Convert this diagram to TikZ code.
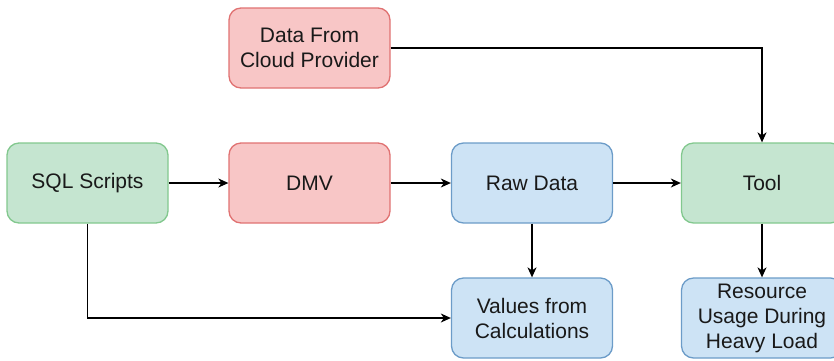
\documentclass[tikz,border=0pt]{standalone}
\usepackage{fontspec}
\setmainfont{Liberation Sans}
\usetikzlibrary{arrows.meta}
\definecolor{gfill}{HTML}{C5E5D0}
\definecolor{gdraw}{HTML}{82C88E}
\definecolor{rfill}{HTML}{F8C6C6}
\definecolor{rdraw}{HTML}{E07272}
\definecolor{bfill}{HTML}{CDE3F5}
\definecolor{bdraw}{HTML}{6C9CC8}
\tikzset{
  box/.style={rounded corners=12pt, line width=1.3pt, minimum width=161pt,
    minimum height=80pt, align=center, inner sep=2pt, text=black!90,
    font=\fontsize{21}{25}\selectfont},
  greenbox/.style={box, fill=gfill, draw=gdraw},
  redbox/.style={box, fill=rfill, draw=rdraw},
  bluebox/.style={box, fill=bfill, draw=bdraw},
  arr/.style={line width=1.2pt, draw=black, -{Stealth[length=10pt,width=9pt,inset=3pt]}}
}
\begin{document}
\begin{tikzpicture}[x=1pt,y=-1pt]
\useasboundingbox (0,0) rectangle (834,360);
\clip (0,0) rectangle (834,360);
\node[redbox]   (cloud)  at (309.5,48)  {Data From\\Cloud Provider};
\node[greenbox] (sql)    at (87.5,183)  {SQL Scripts};
\node[redbox]   (dmv)    at (309.5,183) {DMV};
\node[bluebox]  (raw)    at (532,183)   {Raw Data};
\node[greenbox] (tool)   at (762,183)   {Tool};
\node[bluebox]  (values) at (532,318)   {Values from\\Calculations};
\node[bluebox]  (res)    at (762,318)   {Resource\\Usage During\\Heavy Load};
\draw[arr] (sql) -- (dmv);
\draw[arr] (dmv) -- (raw);
\draw[arr] (raw) -- (tool);
\draw[arr] (raw) -- (values);
\draw[arr] (tool) -- (res);
\draw[arr] (sql.south) |- (values.west);
\draw[arr] (cloud.east) -| (tool.north);
\end{tikzpicture}
\end{document}
